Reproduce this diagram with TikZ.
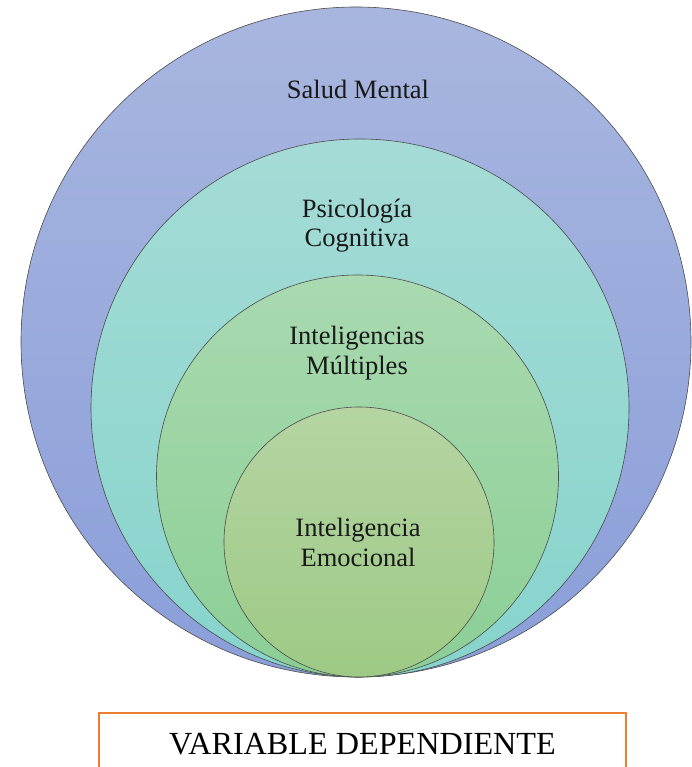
\documentclass[tikz,border=0pt]{standalone}
\usepackage{fontspec}
\setmainfont{Liberation Serif}
\usetikzlibrary{positioning}

\definecolor{saludTop}{HTML}{A8B6DF}
\definecolor{saludBot}{HTML}{8A9ED9}
\definecolor{psicoTop}{HTML}{A5DBD6}
\definecolor{psicoBot}{HTML}{86D4CC}
\definecolor{multiTop}{HTML}{A9D9B0}
\definecolor{multiBot}{HTML}{8BCF95}
\definecolor{emoTop}{HTML}{B5D4A2}
\definecolor{emoBot}{HTML}{9DCA85}
\definecolor{boxOrange}{HTML}{ED7D31}

\begin{document}
\begin{tikzpicture}[
    x=1pt, y=1pt,
    every node/.style={align=center, font=\fontsize{26.5}{29.5}\selectfont},
    ring/.style={draw=black!70, line width=0.6pt, circle, inner sep=0pt, shading=axis, shading angle=0},
    lbl/.style={text=black!90, inner sep=0pt},
    varbox/.style={draw=boxOrange, line width=2.6pt, rectangle, minimum width=527pt, minimum height=56pt,
        inner sep=0pt, text height=26.3pt, text depth=0pt, font=\fontsize{32.2}{36}\selectfont}
]
\useasboundingbox (0,0) rectangle (691,767);

% Nested circles, all touching at the bottom
\node[ring, minimum size=670pt, top color=saludTop, bottom color=saludBot] (salud) at (356,425) {};
\node[ring, minimum size=538pt, top color=psicoTop, bottom color=psicoBot] (psico) at (360,359) {};
\node[ring, minimum size=402pt, top color=multiTop, bottom color=multiBot] (multi) at (357.5,291) {};
\node[ring, minimum size=270pt, top color=emoTop, bottom color=emoBot] (emo) at (359,225) {};

% Labels
\node[lbl] (tsalud) at (358,678) {Salud Mental};
\node[lbl] (tpsico) at (357,541.5) {Psicología\\Cognitiva};
\node[lbl] (tmulti) at (357,414) {Inteligencias\\Múltiples};
\node[lbl] (temo) at (358,224.5) {Inteligencia\\Emocional};

% Variable box
\node[varbox] (var) at (362.5,26) {VARIABLE DEPENDIENTE};

\end{tikzpicture}
\end{document}
